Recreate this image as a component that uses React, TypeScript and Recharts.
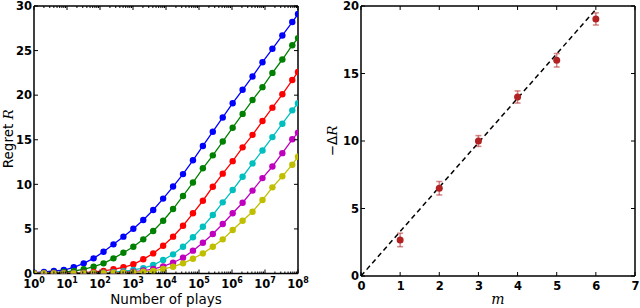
import React from "react";
import { ComposedChart, ErrorBar, Line, LineChart, Scatter, XAxis, YAxis } from "recharts";

// left panel: regret vs number of plays (log x), one curve per arm count
const plays = [
  1, 2, 4, 8, 16, 32, 64, 128, 256, 512, 1024, 2048, 4096, 8192, 16384, 32768, 65536,
  131072, 262144, 524288, 1048576, 2097152, 4194304, 8388608, 16777216, 33554432, 67108864, 100000000,
];
const regretBlue = [0.1, 0.17, 0.28, 0.39, 0.7, 1.14, 1.7, 2.44, 3.27, 4.13, 5.02, 6.0, 7.12, 8.4, 9.75, 11.15, 12.7, 14.3, 15.9, 17.5, 19.1, 20.6, 22.1, 23.7, 25.2, 26.7, 28.2, 29.1];
const regretGreen = [0.02, 0.05, 0.09, 0.16, 0.28, 0.47, 0.76, 1.14, 1.7, 2.33, 3.0, 3.83, 4.76, 5.92, 7.23, 8.7, 10.2, 11.8, 13.25, 14.8, 16.35, 17.9, 19.45, 20.9, 22.5, 24.0, 25.6, 26.4];
const regretRed = [0.0, 0.01, 0.02, 0.03, 0.06, 0.1, 0.18, 0.3, 0.47, 0.7, 1.03, 1.59, 2.26, 3.12, 4.13, 5.36, 6.75, 8.16, 9.73, 11.2, 12.6, 14.15, 15.55, 17.1, 18.6, 20.1, 21.7, 22.6];
const regretCyan = [0, 0, 0, 0.01, 0.02, 0.03, 0.05, 0.09, 0.15, 0.25, 0.4, 0.6, 0.95, 1.51, 2.15, 3.0, 4.06, 5.25, 6.56, 7.98, 9.36, 10.85, 12.35, 13.8, 15.3, 16.8, 18.3, 19.1];
const regretMagenta = [0, 0, 0, 0, 0, 0.01, 0.02, 0.04, 0.07, 0.12, 0.2, 0.33, 0.5, 0.8, 1.21, 1.77, 2.56, 3.45, 4.43, 5.55, 6.75, 7.94, 9.3, 10.7, 12.0, 13.5, 15.05, 15.8];
const regretYellow = [0, 0, 0, 0, 0, 0.01, 0.02, 0.03, 0.05, 0.08, 0.12, 0.2, 0.3, 0.5, 0.76, 1.14, 1.66, 2.26, 3.0, 3.83, 4.88, 5.92, 6.93, 8.24, 9.66, 10.9, 12.2, 13.1];

const curves = [
  { key: "b", values: regretBlue, color: "#0000ff" },
  { key: "g", values: regretGreen, color: "#008000" },
  { key: "r", values: regretRed, color: "#ff0000" },
  { key: "c", values: regretCyan, color: "#00bfbf" },
  { key: "m", values: regretMagenta, color: "#bf00bf" },
  { key: "y", values: regretYellow, color: "#bfbf00" },
];

const decadeTicks = [1, 10, 100, 1000, 10000, 100000, 1000000, 10000000, 100000000];
const regretTicks = [0, 5, 10, 15, 20, 25, 30];

// right panel: -ΔR vs m, with error bars and a dashed fit
const mValues = [1, 2, 3, 4, 5, 6];
const deltaR = [2.67, 6.5, 10.0, 13.26, 15.98, 19.04];
const deltaRErr = [0.5, 0.5, 0.4, 0.45, 0.5, 0.45];
const fitM = [0, 6];
const fitR = [0, 19.75];
const mTicks = [0, 1, 2, 3, 4, 5, 6, 7];
const deltaTicks = [0, 5, 10, 15, 20];

const FONT = "'DejaVu Sans', sans-serif";
const MATH = "'DejaVu Serif', serif";
const TICK_SIZE = 11.5;

const regretRows = plays.map((x, i) => {
  const row: Record<string, number> = { x };
  curves.forEach((c) => (row[c.key] = c.values[i]));
  return row;
});

// minor ticks 2..9 inside each decade
const minorTicks = decadeTicks.slice(0, -1).flatMap((d) => [2, 3, 4, 5, 6, 7, 8, 9].map((k) => d * k));
const logTicks = [...decadeTicks, ...minorTicks];

const deltaRows = mValues.map((m, i) => ({ m, r: deltaR[i], err: deltaRErr[i] }));
const fitRows = fitM.map((m, i) => ({ m, r: fitR[i] }));

function isDecade(v: number) {
  const l = Math.log10(v);
  return Math.abs(l - Math.round(l)) < 1e-9;
}

function LogTick(props: any) {
  const { x, y, payload, side } = props;
  const v = payload.value;
  const major = isDecade(v);
  const len = major ? 4 : 2;
  if (side === "top") return <line x1={x} x2={x} y1={y} y2={y + len} stroke="#000" />;
  return (
    <g>
      <line x1={x} x2={x} y1={y} y2={y - len} stroke="#000" />
      {major && (
        <text x={x} y={y + 14.5} textAnchor="middle" fontFamily={FONT} fontWeight="bold" fontSize={11.5} fill="#000">
          10<tspan dy={-5} fontSize={8}>{Math.round(Math.log10(v))}</tspan>
        </text>
      )}
    </g>
  );
}

function XTick(props: any) {
  const { x, y, payload, side } = props;
  if (side === "top") return <line x1={x} x2={x} y1={y} y2={y + 4} stroke="#000" />;
  return (
    <g>
      <line x1={x} x2={x} y1={y} y2={y - 4} stroke="#000" />
      <text x={x + 0.5} y={y + 13.5} textAnchor="middle" fontFamily={FONT} fontWeight="bold" fontSize={TICK_SIZE} fill="#000">
        {payload.value}
      </text>
    </g>
  );
}

function YTick(props: any) {
  const { x, y, payload, side } = props;
  if (side === "right") return <line x1={x} x2={x - 4} y1={y} y2={y} stroke="#000" />;
  return (
    <g>
      <line x1={x} x2={x + 4} y1={y} y2={y} stroke="#000" />
      <text x={x - 2} y={y + 4.2} textAnchor="end" fontFamily={FONT} fontWeight="bold" fontSize={TICK_SIZE} fill="#000">
        {payload.value}
      </text>
    </g>
  );
}

function RegretPanel() {
  return (
    <LineChart width={320} height={308} data={regretRows} margin={{ top: 5, right: 21, bottom: 4.5, left: 0 }}>
      <XAxis
        xAxisId="bottom"
        dataKey="x"
        type="number"
        scale="log"
        domain={[1, 100000000]}
        ticks={logTicks}
        interval={0}
        allowDataOverflow
        height={30}
        tickSize={0}
        tickMargin={0}
        tickLine={false}
        axisLine={{ stroke: "#000", strokeWidth: 1.5 }}
        tick={<LogTick side="bottom" />}
        label={{
          content: ({ viewBox }: any) => (
            <text x={viewBox.x + viewBox.width / 2} y={viewBox.y + 30.5} textAnchor="middle" fontFamily={FONT} fontSize={13.5} fill="#000">
              Number of plays
            </text>
          ),
        }}
      />
      <XAxis
        xAxisId="top"
        orientation="top"
        dataKey="x"
        type="number"
        scale="log"
        domain={[1, 100000000]}
        ticks={logTicks}
        interval={0}
        allowDataOverflow
        height={1}
        tickSize={0}
        tickMargin={0}
        tickLine={false}
        axisLine={{ stroke: "#000", strokeWidth: 1.5 }}
        tick={<LogTick side="top" />}
      />
      <YAxis
        yAxisId="left"
        type="number"
        domain={[0, 30]}
        ticks={regretTicks}
        interval={0}
        allowDataOverflow
        width={34}
        tickSize={0}
        tickMargin={0}
        tickLine={false}
        axisLine={{ stroke: "#000", strokeWidth: 1.5 }}
        tick={<YTick side="left" />}
        label={{
          content: ({ viewBox }: any) => {
            const cx = 13;
            const cy = viewBox.y + viewBox.height / 2 - 1;
            return (
              <text x={cx} y={cy} transform={`rotate(-90 ${cx} ${cy})`} textAnchor="middle" fontFamily={FONT} fontSize={13.5} fill="#000">
                Regret <tspan fontFamily={MATH} fontStyle="italic">R</tspan>
              </text>
            );
          },
        }}
      />
      <YAxis
        yAxisId="right"
        orientation="right"
        type="number"
        domain={[0, 30]}
        ticks={regretTicks}
        interval={0}
        allowDataOverflow
        width={1}
        tickSize={0}
        tickMargin={0}
        tickLine={false}
        axisLine={{ stroke: "#000", strokeWidth: 1.5 }}
        tick={<YTick side="right" />}
      />
      {curves.map((c) => (
        <Line
          key={c.key}
          xAxisId="bottom"
          yAxisId="left"
          dataKey={c.key}
          stroke={c.color}
          strokeWidth={1.3}
          dot={{ r: 3.2, fill: c.color, stroke: c.color, strokeWidth: 0 }}
          isAnimationActive={false}
        />
      ))}
    </LineChart>
  );
}

function DeltaPanel() {
  return (
    <ComposedChart width={320} height={308} margin={{ top: 5, right: 4, bottom: 4, left: 0 }}>
      <XAxis
        xAxisId="bottom"
        dataKey="m"
        type="number"
        domain={[0, 7]}
        ticks={mTicks}
        interval={0}
        allowDataOverflow
        height={28}
        tickSize={0}
        tickMargin={0}
        tickLine={false}
        axisLine={{ stroke: "#000", strokeWidth: 1.5 }}
        tick={<XTick side="bottom" />}
        label={{
          content: ({ viewBox }: any) => (
            <text x={viewBox.x + viewBox.width / 2} y={viewBox.y + 28} textAnchor="middle" fontFamily={MATH} fontStyle="italic" fontSize={14} fill="#000">
              m
            </text>
          ),
        }}
      />
      <XAxis
        xAxisId="top"
        orientation="top"
        dataKey="m"
        type="number"
        domain={[0, 7]}
        ticks={mTicks}
        interval={0}
        allowDataOverflow
        height={1}
        tickSize={0}
        tickMargin={0}
        tickLine={false}
        axisLine={{ stroke: "#000", strokeWidth: 1.5 }}
        tick={<XTick side="top" />}
      />
      <YAxis
        yAxisId="left"
        dataKey="r"
        type="number"
        domain={[0, 20]}
        ticks={deltaTicks}
        interval={0}
        allowDataOverflow
        width={41}
        tickSize={0}
        tickMargin={0}
        tickLine={false}
        axisLine={{ stroke: "#000", strokeWidth: 1.5 }}
        tick={<YTick side="left" />}
        label={{
          content: ({ viewBox }: any) => {
            const cx = 17;
            const cy = viewBox.y + viewBox.height / 2;
            return (
              <text x={cx} y={cy} transform={`rotate(-90 ${cx} ${cy})`} textAnchor="middle" fontFamily={FONT} fontSize={13.5} fill="#000">
                −Δ<tspan fontFamily={MATH} fontStyle="italic">R</tspan>
              </text>
            );
          },
        }}
      />
      <YAxis
        yAxisId="right"
        orientation="right"
        dataKey="r"
        type="number"
        domain={[0, 20]}
        ticks={deltaTicks}
        interval={0}
        allowDataOverflow
        width={1}
        tickSize={0}
        tickMargin={0}
        tickLine={false}
        axisLine={{ stroke: "#000", strokeWidth: 1.5 }}
        tick={<YTick side="right" />}
      />
      <Line
        xAxisId="bottom"
        yAxisId="left"
        data={fitRows}
        dataKey="r"
        stroke="#000"
        strokeWidth={1.5}
        strokeDasharray="5 3.5"
        dot={false}
        isAnimationActive={false}
      />
      <Scatter
        xAxisId="bottom"
        yAxisId="left"
        data={deltaRows}
        dataKey="r"
        fill="#b22222"
        shape={(p: any) => <circle cx={p.cx} cy={p.cy} r={3.5} fill="#b22222" />}
        isAnimationActive={false}
      >
        <ErrorBar dataKey="err" direction="y" width={3} stroke="rgba(178,34,34,0.55)" strokeWidth={1.5} />
      </Scatter>
    </ComposedChart>
  );
}

export default function App() {
  return (
    <div style={{ position: "fixed", left: 0, top: 0, width: 640, height: 308, background: "#fff" }}>
      <div style={{ position: "absolute", left: 0, top: 0 }}>
        <RegretPanel />
      </div>
      <div style={{ position: "absolute", left: 320, top: 0 }}>
        <DeltaPanel />
      </div>
    </div>
  );
}
